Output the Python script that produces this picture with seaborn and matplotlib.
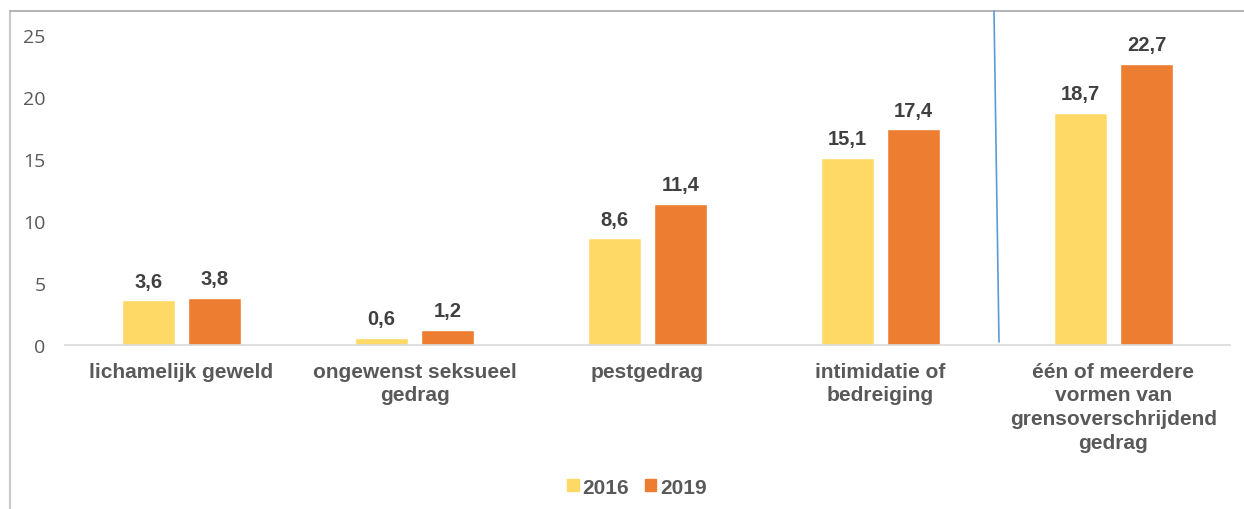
import matplotlib
matplotlib.use("Agg")
import matplotlib.pyplot as plt
import seaborn as sns
import pandas as pd
from matplotlib.lines import Line2D

categories = ["lichamelijk geweld", "ongewenst seksueel\ngedrag", "pestgedrag",
              "intimidatie of\nbedreiging",
              "één of meerdere\nvormen van\ngrensoverschrijdend\ngedrag"]
years = ["2016", "2019"]
values_2016 = [3.6, 0.6, 8.6, 15.1, 18.7]
values_2019 = [3.8, 1.2, 11.4, 17.4, 22.7]
yticks = [0, 5, 10, 15, 20, 25]
colors = ["#FFD966", "#ED7D31"]

df = pd.DataFrame({
    "cat": categories * 2,
    "year": [years[0]] * len(categories) + [years[1]] * len(categories),
    "val": values_2016 + values_2019,
})

sns.set_style("white")
plt.rcParams["font.family"] = ["Liberation Sans", "DejaVu Sans"]

fig = plt.figure(figsize=(12.44, 5.10), dpi=100)
ax = fig.add_axes([0.0523, 0.3216, 0.9364, 0.6321])

sns.barplot(data=df, x="cat", y="val", hue="year", palette=colors,
            width=0.571, gap=0.2, ax=ax, saturation=1, legend=False,
            order=categories, hue_order=years)

for cont in ax.containers:
    ax.bar_label(cont, labels=[f"{v:.1f}".replace(".", ",") for v in cont.datavalues],
                 padding=7, fontsize=14.5, fontweight="bold", color="#404040")

ax.set_ylim(0, 26)
ax.set_xlim(-0.5, len(categories) - 0.5)
ax.set_yticks(yticks)
ax.set_yticklabels([str(t) for t in yticks], fontsize=14, color="#595959",
                   family=["Open Sans", "DejaVu Sans"])
ax.tick_params(axis="y", length=0, pad=14)
ax.tick_params(axis="x", length=0, pad=12)
for lab in ax.get_xticklabels():
    lab.set_fontsize(15)
    lab.set_fontweight("bold")
    lab.set_color("#595959")
    lab.set_linespacing(1.32)
ax.set_xlabel("")
ax.set_ylabel("")
for s in ["top", "right", "left"]:
    ax.spines[s].set_visible(False)
ax.spines["bottom"].set_color("#d9d9d9")
ax.spines["bottom"].set_linewidth(1.2)

# legend
handles = [plt.Rectangle((0, 0), 1, 1, color=c) for c in colors]
fig.legend(handles, years, loc="center", bbox_to_anchor=(0.512, 0.043), ncol=2,
           frameon=False, handlelength=0.55, handleheight=0.55, handletextpad=0.18,
           columnspacing=0.75, prop={"size": 15, "weight": "bold"}, labelcolor="#595959")

# outer frame lines and blue divider
W, H = 1244, 510
fig.add_artist(Line2D([10 / W, 10 / W], [0, 1 - 12 / H], transform=fig.transFigure,
                      color="#c8c8c8", lw=1.5))
fig.add_artist(Line2D([10 / W, 1], [1 - 12 / H, 1 - 12 / H], transform=fig.transFigure,
                      color="#a6a6a6", lw=1.2))
fig.add_artist(Line2D([994 / W, 999 / W], [1 - 12 / H, 1 - 343 / H], transform=fig.transFigure,
                      color="#5B9BD5", lw=1.2))

fig.savefig("out.png", dpi=100, facecolor="white")
